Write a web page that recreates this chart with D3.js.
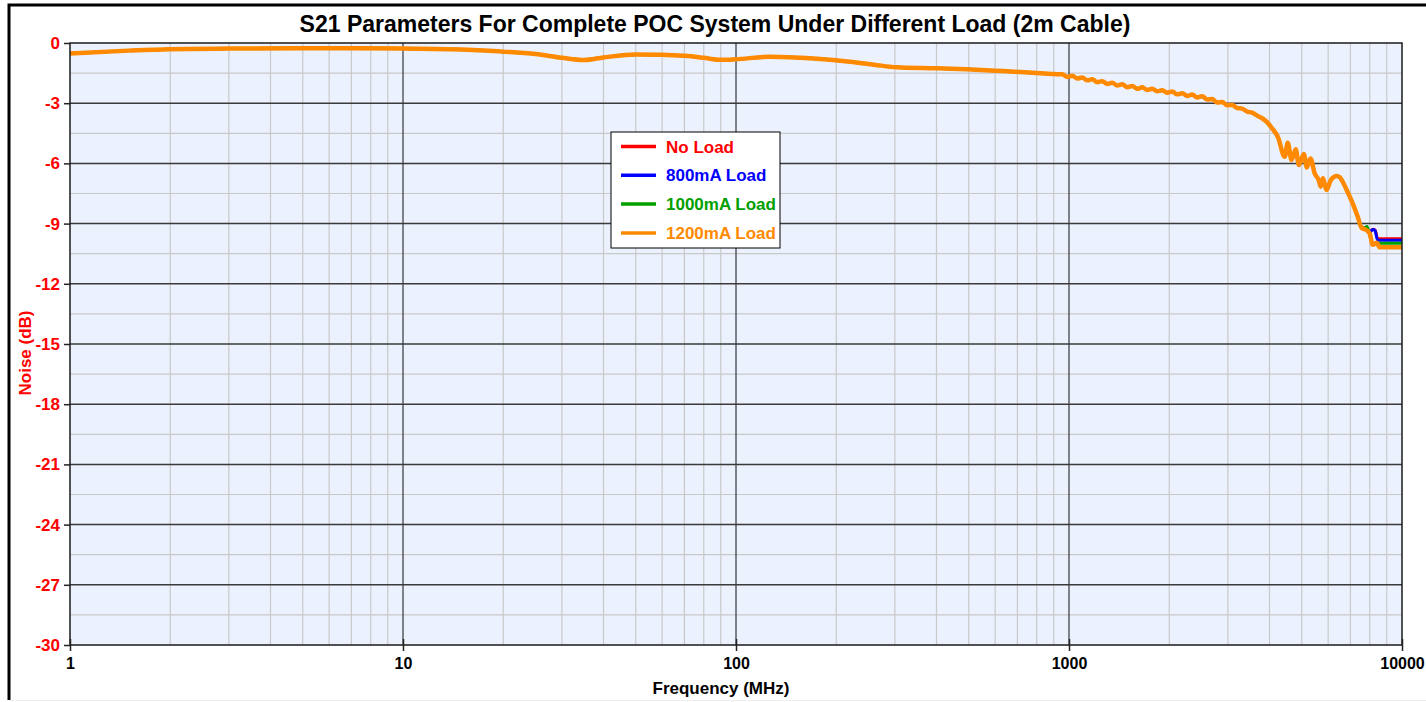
<!DOCTYPE html>
<html>
<head>
<meta charset="utf-8">
<script src="https://cdn.jsdelivr.net/npm/d3@7"></script>
<style>
  body { margin: 0; background: #fff; }
  svg text { font-family: "Liberation Sans", Arial, sans-serif; font-weight: bold; }
</style>
</head>
<body>
<div id="chart"></div>
<script>
// shared part of the four curves (MHz, dB)
var freqCommon = [1, 1.5, 2, 3, 5, 7, 10, 15, 20, 25, 30, 35, 40, 50, 60, 70, 80, 90, 100, 125,
  150, 175, 220, 260, 303, 400, 493, 600, 778, 900,
  955, 989, 1023, 1059, 1096, 1135, 1175, 1216, 1259, 1303, 1349, 1396, 1445, 1496, 1549, 1603,
  1660, 1718, 1778, 1841, 1905, 1972, 2042, 2113, 2188, 2265, 2344, 2427, 2512, 2600, 2692, 2786,
  2884, 2985, 3090, 3199, 3311, 3428, 3548, 3673, 3802, 3920, 4050, 4236, 4446, 4538, 4660, 4797,
  4900, 5072, 5180, 5310, 5468, 5620, 5700, 5780, 5940, 6110, 6370, 6500, 6820, 7110, 7360];
var dbCommon = [-0.52, -0.38, -0.31, -0.28, -0.26, -0.26, -0.27, -0.33, -0.43, -0.55, -0.74, -0.85, -0.72, -0.57, -0.58, -0.64, -0.74, -0.84, -0.81, -0.69,
  -0.72, -0.78, -0.93, -1.08, -1.21, -1.26, -1.31, -1.38, -1.48, -1.55,
  -1.56, -1.69, -1.63, -1.77, -1.72, -1.86, -1.81, -1.95, -1.90, -2.04, -1.98, -2.12, -2.06, -2.20, -2.14, -2.28,
  -2.21, -2.34, -2.28, -2.41, -2.35, -2.48, -2.42, -2.56, -2.50, -2.64, -2.57, -2.71, -2.65, -2.82, -2.79, -2.97,
  -2.94, -3.10, -3.09, -3.24, -3.27, -3.42, -3.47, -3.62, -3.75, -3.92, -4.20, -4.67, -5.67, -4.97, -5.83, -5.30,
  -6.08, -5.53, -6.20, -5.75, -6.50, -6.83, -7.16, -6.74, -7.32, -6.83, -6.63, -6.69, -7.32, -7.99, -8.65];

// where the loads split apart near 8 GHz
var noLoadFreq = [7570, 7730, 7990, 8170, 8300, 8450, 10000];
var noLoadDb = [-9.18, -9.25, -9.42, -9.28, -9.32, -9.76, -9.76];
var load800Freq = [7570, 7730, 7990, 8170, 8300, 8450, 10000];
var load800Db = [-9.20, -9.27, -9.44, -9.30, -9.35, -9.83, -9.83];
var load1000Freq = [7570, 7730, 7850, 7990, 8170, 8390, 10000];
var load1000Db = [-9.22, -9.20, -9.15, -9.55, -9.98, -9.98, -9.98];
var load1200Freq = [7570, 7730, 7990, 8170, 8390, 8570, 10000];
var load1200Db = [-9.23, -9.28, -9.48, -10.06, -9.95, -10.18, -10.18];

var seriesNames = ["No Load", "800mA Load", "1000mA Load", "1200mA Load"];
var seriesColors = ["#ff0000", "#0000ff", "#00a000", "#ff8a00"];
var seriesWidths = [3, 3, 3, 4.5];

var yTicks = [0, -3, -6, -9, -12, -15, -18, -21, -24, -27, -30];
var xTicks = [1, 10, 100, 1000, 10000];

var width = 1426, height = 702;
var margin = {left: 70, right: 24, top: 43, bottom: 57};
var plotW = width - margin.left - margin.right;   // 1332
var plotH = height - margin.top - margin.bottom;  // 602

function makePoints(fs, ds) {
    return fs.map(function(f, i) { return {f: f, db: ds[i]}; });
}

var series = [
    makePoints(freqCommon.concat(noLoadFreq), dbCommon.concat(noLoadDb)),
    makePoints(freqCommon.concat(load800Freq), dbCommon.concat(load800Db)),
    makePoints(freqCommon.concat(load1000Freq), dbCommon.concat(load1000Db)),
    makePoints(freqCommon.concat(load1200Freq), dbCommon.concat(load1200Db))
];

var svg = d3.select("#chart").append("svg")
    .attr("width", width)
    .attr("height", height);

// outer frame (only top and left show in the shot)
svg.append("path")
    .attr("d", "M9,700 L9,5 L1426,5")
    .attr("fill", "none")
    .attr("stroke", "#000")
    .attr("stroke-width", 3);
svg.append("line")
    .attr("x1", 10).attr("x2", 1426).attr("y1", 700.5).attr("y2", 700.5)
    .attr("stroke", "#eee");

var x = d3.scaleLog().domain([1, 10000]).range([0, plotW]);
var y = d3.scaleLinear().domain([-30, 0]).range([plotH, 0]);

var g = svg.append("g")
    .attr("transform", "translate(" + margin.left + "," + margin.top + ")");

g.append("rect")
    .attr("width", plotW).attr("height", plotH)
    .attr("fill", "#ebf1fd");

// minor grid
var minorX = [];
for (var dec = 1; dec < 10000; dec *= 10) {
    for (var k = 2; k <= 9; k++) minorX.push(dec * k);
}
g.selectAll(".minor-x").data(minorX).join("line")
    .attr("class", "minor-x")
    .attr("x1", function(d) { return x(d); })
    .attr("x2", function(d) { return x(d); })
    .attr("y1", 0).attr("y2", plotH)
    .attr("stroke", "#c9c9c9").attr("stroke-width", 1.2);

var minorY = d3.range(-28.5, 0, 3);
g.selectAll(".minor-y").data(minorY).join("line")
    .attr("class", "minor-y")
    .attr("x1", 0).attr("x2", plotW)
    .attr("y1", function(d) { return y(d); })
    .attr("y2", function(d) { return y(d); })
    .attr("stroke", "#c9c9c9").attr("stroke-width", 1.2);

// major grid
g.selectAll(".major-x").data(xTicks.slice(1, -1)).join("line")
    .attr("class", "major-x")
    .attr("x1", function(d) { return x(d); })
    .attr("x2", function(d) { return x(d); })
    .attr("y1", 0).attr("y2", plotH)
    .attr("stroke", "#111").attr("stroke-width", 1);

g.selectAll(".major-y").data(yTicks.slice(1, -1)).join("line")
    .attr("class", "major-y")
    .attr("x1", 0).attr("x2", plotW)
    .attr("y1", function(d) { return y(d); })
    .attr("y2", function(d) { return y(d); })
    .attr("stroke", "#3a3a3a").attr("stroke-width", 1.5);

// curves
var line = d3.line()
    .x(function(d) { return x(d.f); })
    .y(function(d) { return y(d.db); })
    .curve(d3.curveMonotoneX);

g.selectAll(".curve").data(series).join("path")
    .attr("class", "curve")
    .attr("d", line)
    .attr("fill", "none")
    .attr("stroke", function(d, i) { return seriesColors[i]; })
    .attr("stroke-width", function(d, i) { return seriesWidths[i]; })
    .attr("stroke-linejoin", "round");

// plot border
g.append("rect")
    .attr("width", plotW).attr("height", plotH)
    .attr("fill", "none")
    .attr("stroke", "#1a1a1a").attr("stroke-width", 1.5);

// axes
var yAxis = g.append("g")
    .call(d3.axisLeft(y).tickValues(yTicks).tickSize(6).tickPadding(4)
        .tickFormat(function(d) { return String(d); }));
yAxis.select(".domain").remove();
yAxis.selectAll("line").attr("stroke", "#222").attr("stroke-width", 1.5);
yAxis.selectAll("text")
    .attr("fill", "#ff0000")
    .style("font-size", "17px");

var xAxis = g.append("g")
    .attr("transform", "translate(0," + plotH + ")")
    .call(d3.axisBottom(x).tickValues(xTicks).tickSize(6).tickPadding(7)
        .tickFormat(function(d) { return String(d); }));
xAxis.select(".domain").remove();
xAxis.selectAll("line").attr("stroke", "#222").attr("stroke-width", 1.5)
    .attr("y1", -6).attr("y2", 6);
xAxis.selectAll("text")
    .attr("fill", "#000")
    .style("font-size", "16px");

// titles
svg.append("text")
    .attr("x", 715).attr("y", 32)
    .attr("text-anchor", "middle")
    .style("font-size", "23px")
    .text("S21 Parameters For Complete POC System Under Different Load (2m Cable)");

svg.append("text")
    .attr("x", 721).attr("y", 694)
    .attr("text-anchor", "middle")
    .style("font-size", "17px")
    .text("Frequency (MHz)");

svg.append("text")
    .attr("transform", "translate(31,353) rotate(-90)")
    .attr("text-anchor", "middle")
    .attr("fill", "#ff0000")
    .style("font-size", "17px")
    .text("Noise (dB)");

// legend
var legend = svg.append("g").attr("transform", "translate(611,132)");
legend.append("rect")
    .attr("width", 169).attr("height", 116)
    .attr("fill", "#fff")
    .attr("stroke", "#000").attr("stroke-width", 1);

var items = legend.selectAll(".item").data(seriesNames).join("g")
    .attr("class", "item")
    .attr("transform", function(d, i) { return "translate(0," + (14.5 + i * 28.8) + ")"; });
items.append("line")
    .attr("x1", 10).attr("x2", 45)
    .attr("stroke", function(d, i) { return seriesColors[i]; })
    .attr("stroke-width", 3.5);
items.append("text")
    .attr("x", 55).attr("y", 6)
    .attr("fill", function(d, i) { return seriesColors[i]; })
    .style("font-size", "17px")
    .text(function(d) { return d; });
</script>
</body>
</html>
